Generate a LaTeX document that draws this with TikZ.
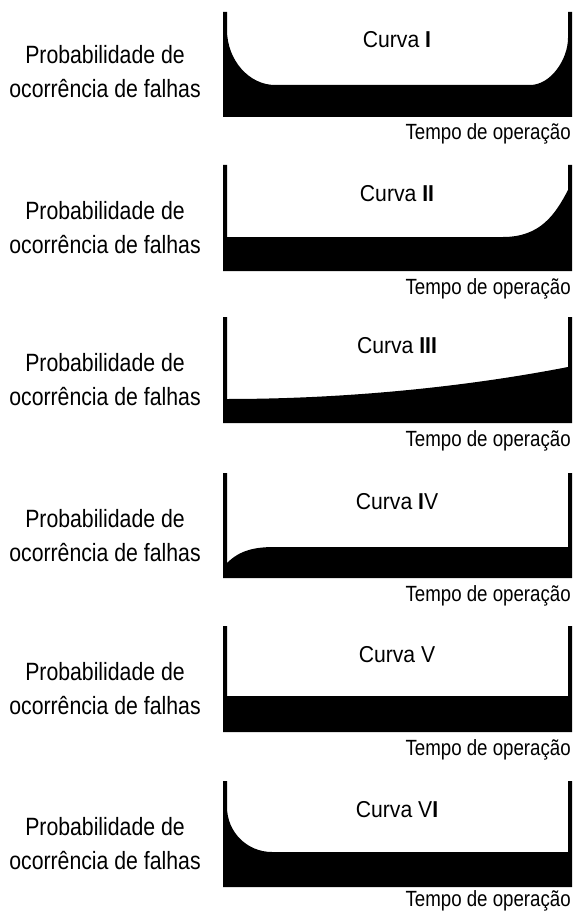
\documentclass[tikz,border=0pt]{standalone}
\usepackage{fontspec}
\setmainfont{Liberation Sans}
\newfontfamily\labfont[FakeStretch=0.85]{Liberation Sans}
\newfontfamily\curfont[FakeStretch=0.92]{Liberation Sans}
\newfontfamily\timfont[FakeStretch=0.85]{Liberation Sans}
\begin{document}
\begin{tikzpicture}[x=1pt,y=-1pt,
  ylab/.style={inner sep=0pt,anchor=base,font=\labfont\fontsize{25}{30}\selectfont},
  ctitle/.style={inner sep=0pt,anchor=base,font=\curfont\fontsize{23}{27}\selectfont},
  xlab/.style={inner sep=0pt,anchor=base east,font=\timfont\fontsize{22}{26}\selectfont},
  shade/.style={fill=black,draw=none}]
\useasboundingbox (0,0) rectangle (575,912);
% ---------- Panel 1 ----------
\fill[shade] (223,12) -- (223,117) -- (572,117) -- (572,12) -- (568,12) -- (568,38)
  .. controls (568,59) and (551,85) .. (530,85) -- (275,85)
  .. controls (249,85) and (227,60) .. (227,30) -- (227,12) -- cycle;
\node[ylab] (y1a) at (105,64) {Probabilidade de};
\node[ylab] (y1b) at (105,98) {ocorrência de falhas};
\node[ctitle] (c1) at (397,48) {Curva \textbf{I}};
\node[xlab] (t1) at (571,140) {Tempo de operação};
% ---------- Panel 2 ----------
\fill[shade] (223,165) -- (223,271) -- (572,271) -- (572,165) -- (568,165) -- (568,190)
  .. controls (555,215) and (540,237) .. (503,237) -- (227,237) -- (227,165) -- cycle;
\node[ylab] (y2a) at (105,219) {Probabilidade de};
\node[ylab] (y2b) at (105,253) {ocorrência de falhas};
\node[ctitle] (c2) at (397,201) {Curva \textbf{II}};
\node[xlab] (t2) at (571,294) {Tempo de operação};
% ---------- Panel 3 ----------
\fill[shade] (223,317) -- (223,423) -- (572,423) -- (572,317) -- (568,317) -- (568,367)
  .. controls (460,388) and (340,399) .. (227,399) -- (227,317) -- cycle;
\node[ylab] (y3a) at (105,371) {Probabilidade de};
\node[ylab] (y3b) at (105,405) {ocorrência de falhas};
\node[ctitle] (c3) at (397,353) {Curva \textbf{III}};
\node[xlab] (t3) at (571,446) {Tempo de operação};
% ---------- Panel 4 ----------
\fill[shade] (223,473) -- (223,578) -- (572,578) -- (572,473) -- (568,473) -- (568,547)
  -- (275,547) .. controls (255,547) and (240,550) .. (227,563) -- (227,473) -- cycle;
\node[ylab] (y4a) at (105,527) {Probabilidade de};
\node[ylab] (y4b) at (105,561) {ocorrência de falhas};
\node[ctitle] (c4) at (397,509) {Curva \textbf{I}V};
\node[xlab] (t4) at (571,601) {Tempo de operação};
% ---------- Panel 5 ----------
\fill[shade] (223,626) -- (223,732) -- (572,732) -- (572,626) -- (568,626) -- (568,696)
  -- (227,696) -- (227,626) -- cycle;
\node[ylab] (y5a) at (105,680) {Probabilidade de};
\node[ylab] (y5b) at (105,714) {ocorrência de falhas};
\node[ctitle] (c5) at (397,662) {Curva V};
\node[xlab] (t5) at (571,755) {Tempo de operação};
% ---------- Panel 6 ----------
\fill[shade] (223,781) -- (223,887) -- (572,887) -- (572,781) -- (568,781) -- (568,852)
  -- (272,852) .. controls (247,852) and (227,832) .. (227,807) -- (227,781) -- cycle;
\node[ylab] (y6a) at (105,835) {Probabilidade de};
\node[ylab] (y6b) at (105,869) {ocorrência de falhas};
\node[ctitle] (c6) at (397,817) {Curva V\textbf{I}};
\node[xlab] (t6) at (571,906) {Tempo de operação};
\end{tikzpicture}
\end{document}
